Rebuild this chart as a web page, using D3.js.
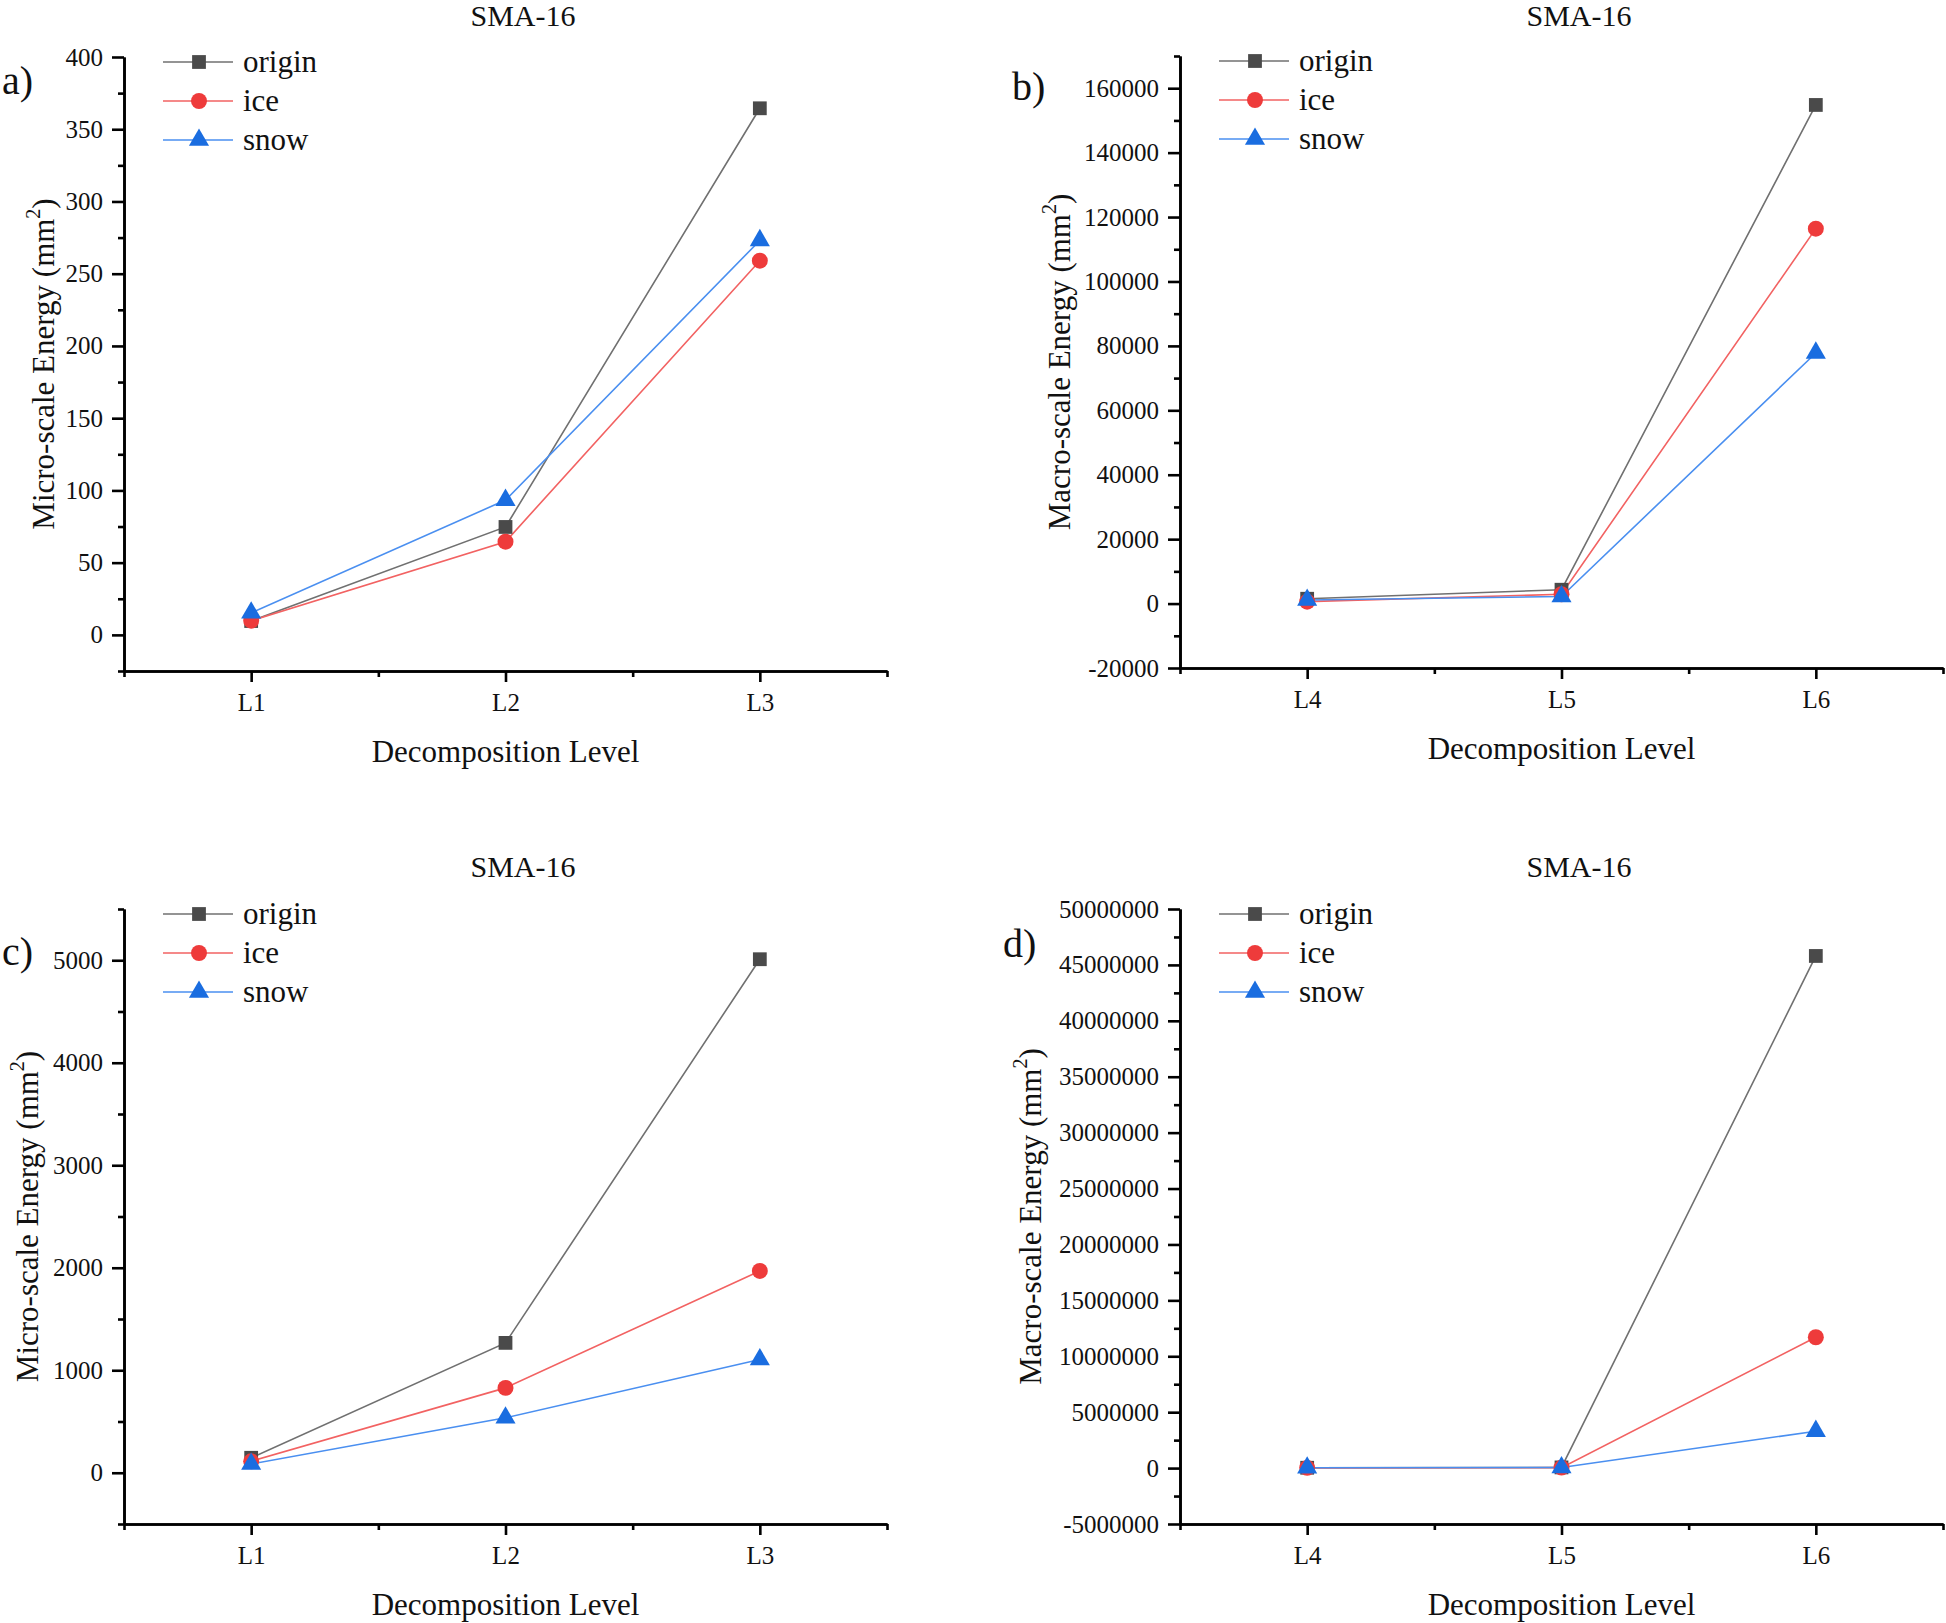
<!DOCTYPE html>
<html>
<head>
<meta charset="utf-8">
<script src="https://cdn.jsdelivr.net/npm/d3@7"></script>
<style>
  body { margin: 0; background: #fff; }
  svg text { font-family: "Liberation Serif", "Times New Roman", serif; }
  .axis path, .axis line { stroke: #000; stroke-width: 2.6px; }
</style>
</head>
<body>
<div id="chart"></div>
<script>
// categories
var microLevels = ["L1", "L2", "L3"];
var macroLevels = ["L4", "L5", "L6"];
var seriesNames = ["origin", "ice", "snow"];

// a) micro-scale energy
var microA_origin = [9.6, 74.7, 364.5];
var microA_ice = [9.8, 64.5, 259];
var microA_snow = [15.3, 93.3, 273];

// b) macro-scale energy
var macroB_origin = [1500, 4300, 154800];
var macroB_ice = [600, 2900, 116400];
var macroB_snow = [1100, 2200, 77800];

// c) micro-scale energy
var microC_origin = [146, 1267, 5010];
var microC_ice = [112, 828, 1969];
var microC_snow = [85, 536, 1105];

// d) macro-scale energy
var macroD_origin = [30000, 60000, 45800000];
var macroD_ice = [20000, 40000, 11700000];
var macroD_snow = [30000, 50000, 3300000];

var width = 1946, height = 1623;
var serif = "'Liberation Serif', 'Times New Roman', serif";

var styles = {
  origin: { line: "#707070", fill: "#4a4a4a", symbol: d3.symbolSquare, size: 190 },
  ice: { line: "#f26262", fill: "#ee3b3b", symbol: d3.symbolCircle, size: 200 },
  snow: { line: "#4a8ff0", fill: "#1a6de0", symbol: d3.symbolTriangle, size: 175 }
};

var panels = [
  { tag: "a)", cats: microLevels, data: [microA_origin, microA_ice, microA_snow],
    domain: [-25, 400], step: 50, left: 124, right: 887, top: 57, bottom: 671,
    ylabel: "Micro-scale Energy (mm", ylx: 43, tagX: 2, tagY: 94, titleX: 523, titleY: 26 },
  { tag: "b)", cats: macroLevels, data: [macroB_origin, macroB_ice, macroB_snow],
    domain: [-20000, 170000], step: 20000, left: 1180, right: 1943, top: 56, bottom: 668,
    ylabel: "Macro-scale Energy (mm", ylx: 1059, tagX: 1012, tagY: 100, titleX: 1579, titleY: 26 },
  { tag: "c)", cats: microLevels, data: [microC_origin, microC_ice, microC_snow],
    domain: [-500, 5500], step: 1000, left: 124, right: 887, top: 909, bottom: 1524,
    ylabel: "Micro-scale Energy (mm", ylx: 27, tagX: 2, tagY: 965, titleX: 523, titleY: 877 },
  { tag: "d)", cats: macroLevels, data: [macroD_origin, macroD_ice, macroD_snow],
    domain: [-5000000, 50000000], step: 5000000, left: 1180, right: 1943, top: 909, bottom: 1524,
    ylabel: "Macro-scale Energy (mm", ylx: 1030, tagX: 1003, tagY: 957, titleX: 1579, titleY: 877 }
];

var svg = d3.select("#chart").append("svg")
  .attr("width", width)
  .attr("height", height);

function styleAxis(sel) {
  sel.attr("font-family", serif).attr("font-size", 25);
  sel.selectAll("text").attr("fill", "#111").style("font-family", serif).style("font-size", "25px");
}

panels.forEach(function (p) {
  var g = svg.append("g");

  var x = d3.scaleLinear().domain([0.5, 3.5]).range([p.left, p.right]);
  var y = d3.scaleLinear().domain(p.domain).range([p.bottom, p.top]);

  // y ticks
  var first = Math.ceil(p.domain[0] / p.step) * p.step;
  var major = d3.range(first, p.domain[1] + p.step / 2, p.step);
  var half = p.step / 2;
  var minor = d3.range(Math.ceil(p.domain[0] / half) * half, p.domain[1] + half / 2, half)
    .filter(function (v) { return major.indexOf(v) < 0; });

  g.append("g").attr("class", "axis")
    .attr("transform", "translate(" + p.left + ",0)")
    .call(d3.axisLeft(y).tickValues(minor).tickSize(6).tickSizeOuter(0).tickFormat(""));
  g.append("g").attr("class", "axis")
    .attr("transform", "translate(" + p.left + ",0)")
    .call(d3.axisLeft(y).tickValues(major).tickSize(12).tickSizeOuter(0).tickPadding(9)
      .tickFormat(function (d) { return String(d); }))
    .call(styleAxis);

  // x ticks
  g.append("g").attr("class", "axis")
    .attr("transform", "translate(0," + p.bottom + ")")
    .call(d3.axisBottom(x).tickValues([0.5, 1.5, 2.5, 3.5]).tickSize(6).tickSizeOuter(0).tickFormat(""));
  g.append("g").attr("class", "axis")
    .attr("transform", "translate(0," + p.bottom + ")")
    .call(d3.axisBottom(x).tickValues([1, 2, 3]).tickSize(11).tickSizeOuter(0).tickPadding(11)
      .tickFormat(function (d) { return p.cats[d - 1]; }))
    .call(styleAxis);

  // lines
  var line = d3.line()
    .x(function (d, i) { return x(i + 1); })
    .y(function (d) { return y(d); });

  p.data.forEach(function (vals, k) {
    var st = styles[seriesNames[k]];
    g.append("path")
      .datum(vals)
      .attr("fill", "none")
      .attr("stroke", st.line)
      .attr("stroke-width", 1.6)
      .attr("d", line);
  });
  p.data.forEach(function (vals, k) {
    var st = styles[seriesNames[k]];
    g.selectAll(null).data(vals).enter().append("path")
      .attr("transform", function (d, i) { return "translate(" + x(i + 1) + "," + y(d) + ")"; })
      .attr("d", d3.symbol().type(st.symbol).size(st.size))
      .attr("fill", st.fill);
  });

  // legend
  var lg = g.append("g").attr("transform", "translate(" + p.left + "," + p.top + ")");
  seriesNames.forEach(function (name, k) {
    var st = styles[name];
    var ry = 5 + k * 39;
    lg.append("line")
      .attr("x1", 39).attr("x2", 109).attr("y1", ry).attr("y2", ry)
      .attr("stroke", st.line).attr("stroke-width", 1.6);
    lg.append("path")
      .attr("transform", "translate(75," + ry + ")")
      .attr("d", d3.symbol().type(st.symbol).size(st.size))
      .attr("fill", st.fill);
    lg.append("text")
      .attr("x", 119).attr("y", ry)
      .attr("dy", "0.32em")
      .attr("font-size", 31)
      .attr("fill", "#111")
      .text(name);
  });

  // title
  g.append("text")
    .attr("x", p.titleX).attr("y", p.titleY)
    .attr("text-anchor", "middle")
    .attr("font-size", 30)
    .attr("fill", "#111")
    .text("SMA-16");

  // panel tag
  g.append("text")
    .attr("x", p.tagX).attr("y", p.tagY)
    .attr("font-size", 40)
    .attr("fill", "#111")
    .text(p.tag);

  // x label
  g.append("text")
    .attr("x", (p.left + p.right) / 2).attr("y", p.bottom + 91)
    .attr("text-anchor", "middle")
    .attr("font-size", 31)
    .attr("fill", "#111")
    .text("Decomposition Level");

  // y label
  var yl = g.append("text")
    .attr("transform", "translate(" + p.ylx + "," + ((p.top + p.bottom) / 2) + ") rotate(-90)")
    .attr("text-anchor", "middle")
    .attr("dy", "0.35em")
    .attr("font-size", 31)
    .attr("fill", "#111");
  yl.append("tspan").text(p.ylabel);
  yl.append("tspan").attr("font-size", 20).attr("dy", "-0.7em").text("2");
  yl.append("tspan").attr("dy", "0.45em").text(")");
});
</script>
</body>
</html>
